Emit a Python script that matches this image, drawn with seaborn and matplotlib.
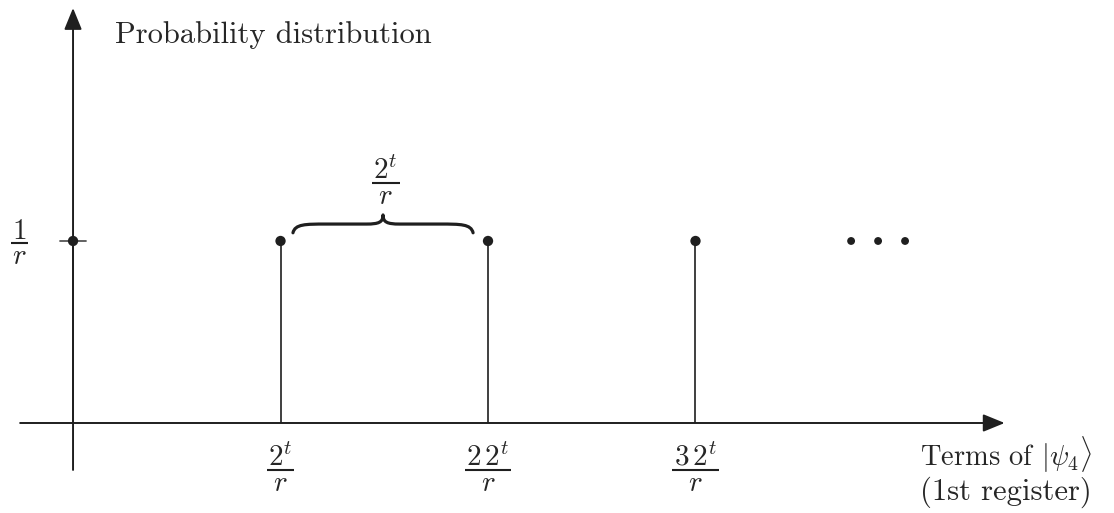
import matplotlib
matplotlib.use("Agg")
import matplotlib.pyplot as plt
from matplotlib.path import Path
from matplotlib.patches import PathPatch
from matplotlib.transforms import offset_copy
import seaborn as sns
import pandas as pd

# Peaks of the first-register distribution, in units of 2^t/r and 1/r
peak_positions = [0, 1, 2, 3]
peak_heights = [1, 1, 1, 1]
tick_positions = [1, 2, 3]
tick_numerators = [r"$2^t$", r"$2\,2^t$", r"$3\,2^t$"]
tick_denominator = r"$r$"
ellipsis_x = [3.75, 3.88, 4.01]
y_tick_numerator = r"$1$"
brace_numerator = r"$2^t$"

sns.set_theme(style="white")
plt.rcParams["font.family"] = "serif"
plt.rcParams["font.serif"] = ["cmr10", "DejaVu Serif"]
plt.rcParams["mathtext.fontset"] = "cm"
plt.rcParams["axes.unicode_minus"] = False

ink = "#1f1f1f"
FS = 21
fig = plt.figure(figsize=(11.14, 5.13), dpi=100)
ax = fig.add_axes([0, 0, 1, 1])
ax.set_xlim(-0.352, 5.017)
ax.set_ylim(-0.4945, 2.324)
ax.axis("off")
renderer = fig.canvas.get_renderer()


def fraction(x, y, num, den, pad_px=1.5):
    """Stacked fraction whose bar is centred at data point (x, y)."""
    t_num = ax.text(x, y, num, fontsize=FS, ha="center", va="baseline",
                    transform=offset_copy(ax.transData, fig=fig, y=3.0, units="points"))
    ax.text(x, y, den, fontsize=FS, ha="center", va="baseline",
            transform=offset_copy(ax.transData, fig=fig, y=-15.5, units="points"))
    bb = t_num.get_window_extent(renderer)
    cx, cy = ax.transData.transform((x, y))
    half = bb.width / 2 + pad_px
    inv = ax.transData.inverted()
    (xa, _), (xb, _) = inv.transform([(cx - half, cy), (cx + half, cy)])
    ax.plot([xa, xb], [y, y], color=ink, lw=1.5, solid_capstyle="butt")


# Axes drawn as arrows
arrow = dict(arrowstyle="-|>,head_length=1.1,head_width=0.45", color=ink, lw=1.4,
             shrinkA=0, shrinkB=0)
ax.annotate("", xy=(4.49, 0), xytext=(-0.255, 0), arrowprops=arrow)
ax.annotate("", xy=(0, 2.28), xytext=(0, -0.258), arrowprops=arrow)

# Stems and their heads
df = pd.DataFrame({"pos": peak_positions, "p": peak_heights})
ax.vlines(df["pos"], 0, df["p"], color=ink, lw=1.2)
sns.scatterplot(data=df, x="pos", y="p", ax=ax, color=ink, s=55, edgecolor="none", zorder=3)
sns.scatterplot(x=ellipsis_x, y=[1] * len(ellipsis_x), ax=ax, color=ink, s=32,
                edgecolor="none", zorder=3)

# Tick mark at 1/r on the vertical axis
ax.plot([-0.063, 0.063], [1, 1], color="#555555", lw=1.3)
fraction(-0.258, 0.99, y_tick_numerator, tick_denominator)

# Tick labels along the horizontal axis
for xp, num in zip(tick_positions, tick_numerators):
    fraction(xp, -0.258, num, tick_denominator)

# Curly brace between the first two nonzero peaks
x0, x1 = 1.06, 1.928
xc = (x0 + x1) / 2
y0, ym, yt = 1.045, 1.093, 1.143
verts = [
    (x0, y0), (x0 + 0.01, ym), (x0 + 0.06, ym), (x0 + 0.16, ym),
    (xc - 0.08, ym),
    (xc - 0.02, ym), (xc, ym + 0.01), (xc, yt),
    (xc, ym + 0.01), (xc + 0.02, ym), (xc + 0.08, ym),
    (x1 - 0.16, ym),
    (x1 - 0.06, ym), (x1 - 0.01, ym), (x1, y0),
]
codes = [Path.MOVETO, Path.CURVE4, Path.CURVE4, Path.CURVE4,
         Path.LINETO,
         Path.CURVE4, Path.CURVE4, Path.CURVE4,
         Path.CURVE4, Path.CURVE4, Path.CURVE4,
         Path.LINETO,
         Path.CURVE4, Path.CURVE4, Path.CURVE4]
ax.add_patch(PathPatch(Path(verts, codes), facecolor="none", edgecolor=ink, lw=2.3,
                       capstyle="round", joinstyle="round"))
fraction(xc + 0.013, 1.319, brace_numerator, tick_denominator)

# Axis titles
ax.text(0.202, 2.132, "Probability distribution", fontsize=22, ha="left", va="center")
ax.text(4.082, -0.176, r"Terms of $|\psi_4\rangle$", fontsize=20.5, ha="left", va="center")
ax.text(4.082, -0.379, "(1st register)", fontsize=22, ha="left", va="center")

fig.savefig("out.png", dpi=100, facecolor="white")
